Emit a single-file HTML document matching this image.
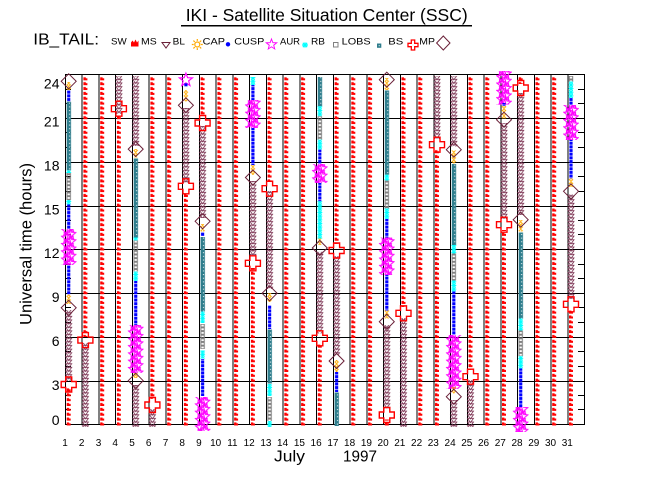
<!DOCTYPE html>
<html><head><meta charset="utf-8"><style>html,body{margin:0;padding:0;background:#fff}svg{display:block}</style></head><body>
<svg width="650" height="500" viewBox="0 0 650 500" xmlns="http://www.w3.org/2000/svg" font-family="'Liberation Sans', Arial, sans-serif">
<defs>
<path id="star" d="M0,-6L1.47,-2.02L5.71,-1.85L2.38,0.77L3.53,4.85L0,2.5L-3.53,4.85L-2.38,0.77L-5.71,-1.85L-1.47,-2.02Z" fill="none" stroke="#ff00ff" stroke-width="1"/>
<path id="dia" d="M0,-7.5L7.5,0L0,7.5L-7.5,0Z" fill="none" stroke="#6a2038" stroke-width="1"/>
<path id="mp" d="M-3,-7.5H3V-3H7.5V3H3V7.5H-3V3H-7.5V-3H-3Z" fill="none" stroke="#ff0000" stroke-width="1.4"/>
<path id="tri" d="M-3,-2H3L0,2.2Z" fill="none" stroke="#7a3050" stroke-width="0.85"/>
<path id="ast" d="M-2.5,0H2.5M0,-2.2V2.2M-1.8,-1.8L1.8,1.8M1.8,-1.8L-1.8,1.8" fill="none" stroke="#00ffff" stroke-width="1"/>
<pattern id="ms" patternUnits="userSpaceOnUse" x="-10" y="3.52" width="20" height="4.861">
<path d="M8,0.9H10.4V1.8H12V3.9H8Z" fill="#ff0000"/>
</pattern>
<pattern id="bl" patternUnits="userSpaceOnUse" x="-10" y="2.887" width="20" height="3.646">
<use href="#tri" x="10" y="-1.823"/><use href="#tri" x="10" y="1.823"/><use href="#tri" x="10" y="5.469"/>
</pattern>
<pattern id="cu" patternUnits="userSpaceOnUse" x="-10" y="2.887" width="20" height="3.646">
<rect x="8.4" y="0.3" width="3.2" height="3" fill="#0000ff"/>
</pattern>
<pattern id="bs" patternUnits="userSpaceOnUse" x="-10" y="2.887" width="20" height="3.646">
<rect x="8" y="0" width="4.3" height="3.646" fill="#2e7d8c"/><rect x="10.4" y="1.4" width="1" height="1" fill="#fff"/>
</pattern>
<pattern id="lo" patternUnits="userSpaceOnUse" x="-10" y="2.887" width="20" height="3.646">
<rect x="8.3" y="0.5" width="3.4" height="2.7" fill="none" stroke="#808080" stroke-width="1"/>
</pattern>
<pattern id="rb" patternUnits="userSpaceOnUse" x="-10" y="2.887" width="20" height="3.646">
<use href="#ast" x="10" y="-1.823"/><use href="#ast" x="10" y="1.823"/><use href="#ast" x="10" y="5.469"/>
</pattern>
<pattern id="au" patternUnits="userSpaceOnUse" x="-10" y="2.887" width="20" height="7.292">
<use href="#star" x="11.5" y="-1.823"/><use href="#star" x="8.5" y="1.823"/><use href="#star" x="11.5" y="5.469"/><use href="#star" x="8.5" y="9.115"/><use href="#star" x="11.5" y="12.76"/>
</pattern>
<pattern id="ca" patternUnits="userSpaceOnUse" x="-10" y="2.887" width="20" height="3.646">
<circle cx="10" cy="1.823" r="1.2" fill="none" stroke="#ffaa00" stroke-width="0.9"/>
<path d="M10,0V0.6M10,3.05V3.646M7.8,1.823H8.7M11.3,1.823H12.2" stroke="#ffaa00" stroke-width="0.9"/>
</pattern>
</defs>

<!-- Title -->
<text x="185.7" y="21" font-size="17.5" textLength="282" lengthAdjust="spacingAndGlyphs">IKI - Satellite Situation Center (SSC)</text>
<rect x="181" y="25" width="291" height="1.5" fill="#000"/>

<!-- Legend -->
<text x="33.3" y="44.5" font-size="16" textLength="65.7" lengthAdjust="spacingAndGlyphs">IB_TAIL:</text>
<g font-size="9.5">
<text x="111" y="44.5" textLength="15.7" lengthAdjust="spacingAndGlyphs">SW</text>
<text x="141" y="44.5" textLength="15.7" lengthAdjust="spacingAndGlyphs">MS</text>
<text x="172.7" y="44.5" textLength="12.3" lengthAdjust="spacingAndGlyphs">BL</text>
<text x="202.7" y="44.5" textLength="22.3" lengthAdjust="spacingAndGlyphs">CAP</text>
<text x="234.3" y="44.5" textLength="30" lengthAdjust="spacingAndGlyphs">CUSP</text>
<text x="280" y="44.5" textLength="20" lengthAdjust="spacingAndGlyphs">AUR</text>
<text x="311" y="44.5" textLength="14" lengthAdjust="spacingAndGlyphs">RB</text>
<text x="341.7" y="44.5" textLength="29" lengthAdjust="spacingAndGlyphs">LOBS</text>
<text x="388.3" y="44.5" textLength="15" lengthAdjust="spacingAndGlyphs">BS</text>
<text x="419.3" y="44.5" textLength="15.7" lengthAdjust="spacingAndGlyphs">MP</text>
</g>
<path d="M131,46.5V42.5L132.5,40.5L134,42.5L135.5,39.5L137,42.5L138.5,40.5V46.5Z" fill="#ff0000"/>
<path d="M162,42.5H170L166,48Z" fill="none" stroke="#6a2038" stroke-width="1"/>
<circle cx="197.3" cy="44.5" r="2.5" fill="none" stroke="#ffaa00" stroke-width="1.2"/>
<path d="M197.3,40.9V39M197.3,48.1V50M193.7,44.5H191.8M200.9,44.5H202.8M194.8,42L193.4,40.6M199.8,42L201.2,40.6M194.8,47L193.4,48.4M199.8,47L201.2,48.4" stroke="#ffaa00" stroke-width="1.2"/>
<circle cx="228" cy="44.3" r="2.2" fill="#0000ff"/>
<use href="#star" transform="translate(271.5,44.5) scale(0.92)"/>
<use href="#ast" transform="translate(305,45) scale(1.2)"/>
<rect x="333.5" y="42.5" width="4.5" height="4.5" fill="none" stroke="#808080" stroke-width="1"/>
<rect x="377" y="43.5" width="4.3" height="4.3" fill="#2e7d8c"/><rect x="378.7" y="45.2" width="1" height="1" fill="#fff"/>
<path d="M411.3,40H414.7V43.3H418V46.7H414.7V50H411.3V46.7H408V43.3H411.3Z" fill="none" stroke="#ff0000" stroke-width="1.3"/>
<path d="M443.3,36L450,43L443.3,50L436.6,43Z" fill="none" stroke="#6a2038" stroke-width="1"/>

<!-- Grid -->
<g stroke="#000" stroke-width="1" shape-rendering="crispEdges" fill="none">
<path d="M65,74.5H585M65,118.5H585M65,162.5H585M65,206.5H585M65,249.5H585M65,293.5H585M65,337.5H585M65,381.5H585M65,424.5H585"/>
<path d="M65.5,74V425M82.24,74V425M98.98,74V425M115.73,74V425M132.47,74V425M149.21,74V425M165.95,74V425M182.69,74V425M199.44,74V425M216.18,74V425M232.92,74V425M249.66,74V425M266.4,74V425M283.15,74V425M299.89,74V425M316.63,74V425M333.37,74V425M350.11,74V425M366.86,74V425M383.6,74V425M400.34,74V425M417.08,74V425M433.82,74V425M450.56,74V425M467.31,74V425M484.05,74V425M500.79,74V425M517.53,74V425M534.27,74V425M551.02,74V425M567.76,74V425M584.5,74V425"/>
<path d="M65,89.5H71M65,103.5H71M65,132.5H71M65,147.5H71M65,176.5H71M65,191.5H71M65,220.5H71M65,234.5H71M65,264.5H71M65,278.5H71M65,307.5H71M65,322.5H71M65,351.5H71M65,366.5H71M65,395.5H71M65,409.5H71"/>
<path d="M578,89.5H585M578,103.5H585M578,132.5H585M578,147.5H585M578,176.5H585M578,191.5H585M578,220.5H585M578,234.5H585M578,264.5H585M578,278.5H585M578,307.5H585M578,322.5H585M578,351.5H585M578,366.5H585M578,395.5H585M578,409.5H585"/>
</g>

<!-- Columns -->
<g transform="translate(68.7,0)">
<rect x="-8" y="82" width="16" height="8" fill="url(#ca)"/>
<rect x="-8" y="90" width="16" height="11.7" fill="url(#cu)"/>
<rect x="-8" y="101.7" width="16" height="68.6" fill="url(#bs)"/>
<rect x="-8" y="170.3" width="16" height="2.7" fill="url(#rb)"/>
<rect x="-8" y="173" width="16" height="27" fill="url(#lo)"/>
<rect x="-8" y="200" width="16" height="4.5" fill="url(#rb)"/>
<rect x="-8" y="204.5" width="16" height="24.5" fill="url(#cu)"/>
<rect x="-8" y="229" width="16" height="36" fill="url(#au)"/>
<rect x="-8" y="265" width="16" height="29.5" fill="url(#cu)"/>
<rect x="-8" y="294.5" width="16" height="9.5" fill="url(#ca)"/>
<rect x="-8" y="310" width="16" height="71" fill="url(#bl)"/>
<rect x="-8" y="387" width="16" height="39" fill="url(#ms)"/>
<use href="#dia" x="0" y="81.3"/><use href="#dia" x="0" y="307.8"/><use href="#mp" x="0" y="384.5"/>
</g>
<g transform="translate(85.4,0)">
<rect x="-8" y="76" width="16" height="261" fill="url(#ms)"/>
<rect x="-8" y="343" width="16" height="84" fill="url(#bl)"/>
<use href="#mp" x="0" y="340.1"/>
</g>
<g transform="translate(102.2,0)"><rect x="-8" y="76" width="16" height="350" fill="url(#ms)"/></g>
<g transform="translate(118.9,0)">
<rect x="-8" y="76" width="16" height="38" fill="url(#bl)"/>
<rect x="-8" y="116" width="16" height="310" fill="url(#ms)"/>
<use href="#mp" x="0" y="108.7"/>
</g>
<g transform="translate(135.7,0)">
<rect x="-8" y="76" width="16" height="70" fill="url(#bl)"/>
<rect x="-8" y="149" width="16" height="8.5" fill="url(#ca)"/>
<rect x="-8" y="158.5" width="16" height="79" fill="url(#bs)"/>
<rect x="-8" y="237.5" width="16" height="3" fill="url(#rb)"/>
<rect x="-8" y="240.5" width="16" height="31" fill="url(#lo)"/>
<rect x="-8" y="271.5" width="16" height="9.5" fill="url(#rb)"/>
<rect x="-8" y="281" width="16" height="44" fill="url(#cu)"/>
<rect x="-8" y="325" width="16" height="48" fill="url(#au)"/>
<rect x="-8" y="373" width="16" height="5" fill="url(#ca)"/>
<rect x="-8" y="385" width="16" height="42" fill="url(#bl)"/>
<use href="#dia" x="0" y="149.1"/><use href="#dia" x="0" y="380.7"/>
</g>
<g transform="translate(152.4,0)">
<rect x="-8" y="76" width="16" height="323" fill="url(#ms)"/>
<rect x="-8" y="409" width="16" height="18" fill="url(#bl)"/>
<use href="#mp" x="0" y="405"/>
</g>
<g transform="translate(169.2,0)"><rect x="-8" y="76" width="16" height="350" fill="url(#ms)"/></g>
<g transform="translate(185.9,0)">
<use href="#star" transform="translate(0,80) scale(1.15)"/>
<rect x="-8" y="83" width="16" height="3.5" fill="url(#cu)"/>
<rect x="-8" y="90" width="16" height="11.5" fill="url(#ca)"/>
<rect x="-8" y="108" width="16" height="75" fill="url(#bl)"/>
<rect x="-8" y="193" width="16" height="233" fill="url(#ms)"/>
<use href="#dia" x="0" y="105.3"/><use href="#mp" x="0" y="186.3"/>
</g>
<g transform="translate(202.6,0)">
<rect x="-8" y="76" width="16" height="39" fill="url(#ms)"/>
<rect x="-8" y="126" width="16" height="92" fill="url(#bl)"/>
<rect x="-8" y="224" width="16" height="7.5" fill="url(#ca)"/>
<rect x="-8" y="232" width="16" height="4" fill="url(#cu)"/>
<rect x="-8" y="237" width="16" height="74.5" fill="url(#bs)"/>
<rect x="-8" y="311.5" width="16" height="11.5" fill="url(#rb)"/>
<rect x="-8" y="324" width="16" height="25" fill="url(#lo)"/>
<rect x="-8" y="350.5" width="16" height="8" fill="url(#rb)"/>
<rect x="-8" y="359" width="16" height="37" fill="url(#cu)"/>
<rect x="-8" y="397" width="16" height="34" fill="url(#au)"/>
<use href="#mp" x="0" y="123"/><use href="#dia" x="0" y="221.3"/>
</g>
<g transform="translate(219.4,0)"><rect x="-8" y="76" width="16" height="350" fill="url(#ms)"/></g>
<g transform="translate(236.1,0)"><rect x="-8" y="76" width="16" height="350" fill="url(#ms)"/></g>
<g transform="translate(252.9,0)">
<rect x="-8" y="77" width="16" height="8" fill="url(#rb)"/>
<rect x="-8" y="85" width="16" height="15" fill="url(#cu)"/>
<rect x="-8" y="100" width="16" height="28" fill="url(#au)"/>
<rect x="-8" y="128" width="16" height="37" fill="url(#cu)"/>
<rect x="-8" y="165" width="16" height="10" fill="url(#ca)"/>
<rect x="-8" y="181" width="16" height="75" fill="url(#bl)"/>
<rect x="-8" y="268" width="16" height="158" fill="url(#ms)"/>
<use href="#dia" x="0" y="177.5"/><use href="#mp" x="0" y="263.3"/>
</g>
<g transform="translate(269.6,0)">
<rect x="-8" y="76" width="16" height="106" fill="url(#ms)"/>
<rect x="-8" y="191" width="16" height="98" fill="url(#bl)"/>
<rect x="-8" y="293" width="16" height="9" fill="url(#ca)"/>
<rect x="-8" y="305" width="16" height="24" fill="url(#cu)"/>
<rect x="-8" y="329.5" width="16" height="54" fill="url(#bs)"/>
<rect x="-8" y="384" width="16" height="12" fill="url(#rb)"/>
<rect x="-8" y="397" width="16" height="24" fill="url(#lo)"/>
<rect x="-8" y="421" width="16" height="6" fill="url(#rb)"/>
<use href="#mp" x="0" y="188.7"/><use href="#dia" x="0" y="293.3"/>
</g>
<g transform="translate(286.3,0)"><rect x="-8" y="76" width="16" height="350" fill="url(#ms)"/></g>
<g transform="translate(303.1,0)"><rect x="-8" y="76" width="16" height="350" fill="url(#ms)"/></g>
<g transform="translate(319.8,0)">
<rect x="-8" y="77" width="16" height="29.3" fill="url(#bs)"/>
<rect x="-8" y="106.3" width="16" height="10" fill="url(#rb)"/>
<rect x="-8" y="116.3" width="16" height="23.4" fill="url(#lo)"/>
<rect x="-8" y="139.7" width="16" height="10" fill="url(#rb)"/>
<rect x="-8" y="149.7" width="16" height="14.3" fill="url(#cu)"/>
<rect x="-8" y="164" width="16" height="19" fill="url(#au)"/>
<rect x="-8" y="183" width="16" height="18.3" fill="url(#cu)"/>
<rect x="-8" y="201.3" width="16" height="37.2" fill="url(#rb)"/>
<rect x="-8" y="238.5" width="16" height="6.5" fill="url(#ca)"/>
<rect x="-8" y="251.7" width="16" height="81.8" fill="url(#bl)"/>
<rect x="-8" y="343" width="16" height="83" fill="url(#ms)"/>
<use href="#dia" x="0" y="248"/><use href="#mp" x="0" y="338.3"/>
</g>
<g transform="translate(336.6,0)">
<rect x="-8" y="76" width="16" height="168" fill="url(#ms)"/>
<rect x="-8" y="256" width="16" height="99" fill="url(#bl)"/>
<rect x="-8" y="360" width="16" height="12" fill="url(#ca)"/>
<rect x="-8" y="372" width="16" height="20" fill="url(#cu)"/>
<rect x="-8" y="392.5" width="16" height="33.5" fill="url(#bs)"/>
<use href="#mp" x="0" y="250.5"/><use href="#dia" x="0" y="361"/>
</g>
<g transform="translate(353.3,0)"><rect x="-8" y="76" width="16" height="350" fill="url(#ms)"/></g>
<g transform="translate(370.1,0)"><rect x="-8" y="76" width="16" height="350" fill="url(#ms)"/></g>
<g transform="translate(386.8,0)">
<rect x="-8" y="78" width="16" height="12" fill="url(#ca)"/>
<rect x="-8" y="90.5" width="16" height="84.2" fill="url(#bs)"/>
<rect x="-8" y="174.7" width="16" height="5.8" fill="url(#rb)"/>
<rect x="-8" y="180.5" width="16" height="28" fill="url(#lo)"/>
<rect x="-8" y="208.5" width="16" height="10.5" fill="url(#rb)"/>
<rect x="-8" y="219" width="16" height="18.5" fill="url(#cu)"/>
<rect x="-8" y="237.5" width="16" height="37.5" fill="url(#au)"/>
<rect x="-8" y="275" width="16" height="35.5" fill="url(#cu)"/>
<rect x="-8" y="310.5" width="16" height="8" fill="url(#ca)"/>
<rect x="-8" y="325" width="16" height="83.5" fill="url(#bl)"/>
<rect x="-8" y="419.5" width="16" height="6.5" fill="url(#ms)"/>
<use href="#dia" x="0" y="79.7"/><use href="#dia" x="0" y="321.7"/><use href="#mp" x="0" y="415"/>
</g>
<g transform="translate(403.5,0)">
<rect x="-8" y="76" width="16" height="231" fill="url(#ms)"/>
<rect x="-8" y="318" width="16" height="109" fill="url(#bl)"/>
<use href="#mp" x="0" y="313.3"/>
</g>
<g transform="translate(420.3,0)"><rect x="-8" y="76" width="16" height="350" fill="url(#ms)"/></g>
<g transform="translate(437,0)">
<rect x="-8" y="76" width="16" height="63" fill="url(#bl)"/>
<rect x="-8" y="149.5" width="16" height="276.5" fill="url(#ms)"/>
<use href="#mp" x="0" y="144.7"/>
</g>
<g transform="translate(453.8,0)">
<rect x="-8" y="76" width="16" height="70.5" fill="url(#bl)"/>
<rect x="-8" y="150.5" width="16" height="13" fill="url(#ca)"/>
<rect x="-8" y="164" width="16" height="81" fill="url(#bs)"/>
<rect x="-8" y="245" width="16" height="8.5" fill="url(#rb)"/>
<rect x="-8" y="253.5" width="16" height="27" fill="url(#lo)"/>
<rect x="-8" y="280.5" width="16" height="11" fill="url(#rb)"/>
<rect x="-8" y="291.5" width="16" height="43.5" fill="url(#cu)"/>
<rect x="-8" y="335" width="16" height="54" fill="url(#au)"/>
<rect x="-8" y="387" width="16" height="6.5" fill="url(#ca)"/>
<rect x="-8" y="400" width="16" height="27" fill="url(#bl)"/>
<use href="#dia" x="0" y="149.7"/><use href="#dia" x="0" y="396.7"/>
</g>
<g transform="translate(470.5,0)">
<rect x="-8" y="76" width="16" height="294" fill="url(#ms)"/>
<rect x="-8" y="380" width="16" height="47" fill="url(#bl)"/>
<use href="#mp" x="0" y="376.7"/>
</g>
<g transform="translate(487.3,0)"><rect x="-8" y="76" width="16" height="350" fill="url(#ms)"/></g>
<g transform="translate(504,0)">
<rect x="-8" y="71" width="16" height="33.7" fill="url(#au)"/>
<rect x="-8" y="103" width="16" height="3" fill="url(#cu)"/>
<rect x="-8" y="106" width="16" height="12.5" fill="url(#ca)"/>
<rect x="-8" y="123" width="16" height="96" fill="url(#bl)"/>
<rect x="-8" y="230" width="16" height="196" fill="url(#ms)"/>
<use href="#dia" x="0" y="119.7"/><use href="#mp" x="0" y="224.7"/>
</g>
<g transform="translate(520.7,0)">
<rect x="-8" y="76" width="16" height="8" fill="url(#ms)"/>
<rect x="-8" y="93" width="16" height="122" fill="url(#bl)"/>
<rect x="-8" y="220" width="16" height="11.5" fill="url(#ca)"/>
<rect x="-8" y="232.5" width="16" height="86" fill="url(#bs)"/>
<rect x="-8" y="318.5" width="16" height="12" fill="url(#rb)"/>
<rect x="-8" y="330.5" width="16" height="25.5" fill="url(#lo)"/>
<rect x="-8" y="356" width="16" height="12.5" fill="url(#rb)"/>
<rect x="-8" y="368.5" width="16" height="38.5" fill="url(#cu)"/>
<rect x="-8" y="407" width="16" height="25" fill="url(#au)"/>
<use href="#mp" x="0" y="88"/><use href="#dia" x="0" y="219.7"/>
</g>
<g transform="translate(537.5,0)"><rect x="-8" y="76" width="16" height="350" fill="url(#ms)"/></g>
<g transform="translate(554.2,0)"><rect x="-8" y="76" width="16" height="350" fill="url(#ms)"/></g>
<g transform="translate(571,0)">
<rect x="-8" y="76" width="16" height="5.5" fill="url(#lo)"/>
<rect x="-8" y="81.5" width="16" height="16.5" fill="url(#rb)"/>
<rect x="-8" y="98" width="16" height="7" fill="url(#cu)"/>
<rect x="-8" y="105" width="16" height="35" fill="url(#au)"/>
<rect x="-8" y="140" width="16" height="38.5" fill="url(#cu)"/>
<rect x="-8" y="178.5" width="16" height="8.5" fill="url(#ca)"/>
<rect x="-8" y="194.5" width="16" height="104.5" fill="url(#bl)"/>
<rect x="-8" y="309.5" width="16" height="116.5" fill="url(#ms)"/>
<use href="#dia" x="0" y="191.3"/><use href="#mp" x="0" y="304.3"/>
</g>

<!-- Y tick labels -->
<g font-size="14" text-anchor="end">
<text x="59.5" y="88.5">24</text>
<text x="59.5" y="126.5">21</text>
<text x="59.5" y="170.5">18</text>
<text x="59.5" y="214.5">15</text>
<text x="59.5" y="258">12</text>
<text x="59.5" y="302">9</text>
<text x="59.5" y="346">6</text>
<text x="59.5" y="390">3</text>
<text x="59.5" y="425">0</text>
</g>

<text transform="translate(31.5,244) rotate(-90)" text-anchor="middle" font-size="17" textLength="162" lengthAdjust="spacingAndGlyphs">Universal time (hours)</text>

<g font-size="10" text-anchor="middle">
<text x="65" y="446">1</text><text x="81.7" y="446">2</text><text x="98.5" y="446">3</text><text x="115.2" y="446">4</text><text x="132" y="446">5</text><text x="148.7" y="446">6</text><text x="165.5" y="446">7</text><text x="182.2" y="446">8</text><text x="198.9" y="446">9</text><text x="215.7" y="446">10</text><text x="232.4" y="446">11</text><text x="249.2" y="446">12</text><text x="265.9" y="446">13</text><text x="282.6" y="446">14</text><text x="299.4" y="446">15</text><text x="316.1" y="446">16</text><text x="332.9" y="446">17</text><text x="349.6" y="446">18</text><text x="366.4" y="446">19</text><text x="383.1" y="446">20</text><text x="399.8" y="446">21</text><text x="416.6" y="446">22</text><text x="433.3" y="446">23</text><text x="450.1" y="446">24</text><text x="466.8" y="446">25</text><text x="483.5" y="446">26</text><text x="500.3" y="446">27</text><text x="517" y="446">28</text><text x="533.8" y="446">29</text><text x="550.5" y="446">30</text><text x="567.3" y="446">31</text>
</g>

<text x="274" y="461.5" font-size="16" textLength="31" lengthAdjust="spacingAndGlyphs">July</text>
<text x="343" y="461.5" font-size="16" textLength="34" lengthAdjust="spacingAndGlyphs">1997</text>
</svg>
</body></html>
